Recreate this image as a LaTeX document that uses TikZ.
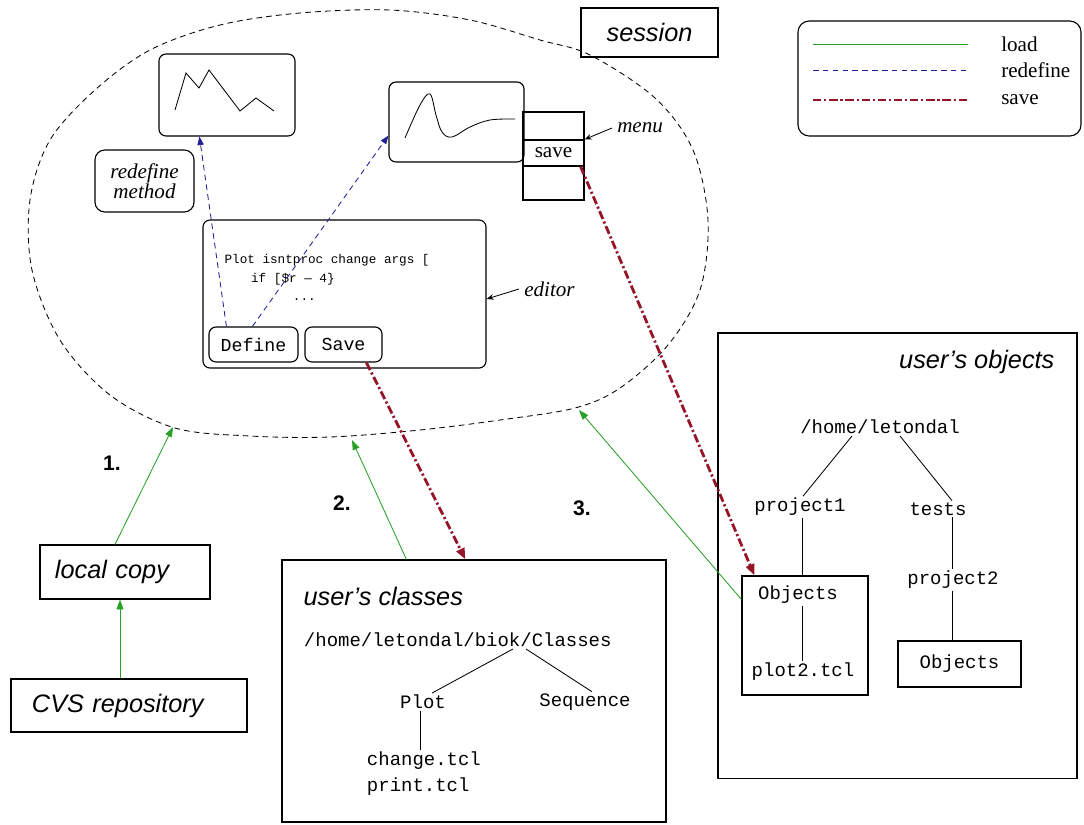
\documentclass[tikz,border=0pt]{standalone}
\usepackage{fontspec}
\setmainfont{Liberation Serif}
\setsansfont{Liberation Sans}
\setmonofont{Liberation Mono}
\usetikzlibrary{arrows.meta,calc}

\definecolor{loadgreen}{RGB}{40,160,40}
\definecolor{redefblue}{RGB}{30,30,150}
\definecolor{savered}{RGB}{150,20,40}

\tikzset{
  loadline/.style={draw=loadgreen, line width=0.6pt},
  redefline/.style={draw=redefblue, line width=0.6pt, dash pattern=on 4pt off 3pt},
  saveline/.style={draw=savered, line width=2pt, dash pattern=on 6pt off 2pt on 1.5pt off 2pt},
  load/.style={loadline, -{Triangle[length=7pt,width=5pt]}},
  redef/.style={redefline, -{Triangle[length=6pt,width=4.5pt]}},
  savearr/.style={saveline, -{Triangle[length=8pt,width=6pt]}},
  pointer/.style={line width=0.6pt, -{Stealth[length=5pt,width=4pt]}},
  win/.style={draw, rounded corners=5pt},
  box/.style={draw},
  title/.style={font=\sffamily\itshape\fontsize{18}{21}\selectfont},
  numlbl/.style={font=\sffamily\bfseries\fontsize{15}{18}\selectfont},
  mono/.style={font=\ttfamily\fontsize{13.5}{16}\selectfont, inner sep=1pt},
  note/.style={font=\itshape\fontsize{15}{17}\selectfont},
  legtext/.style={font=\fontsize{15}{17}\selectfont, anchor=west},
}

\begin{document}
\begin{tikzpicture}[x=0.025cm, y=-0.025cm, line width=0.8pt]
  \useasboundingbox (0,0) rectangle (1084,824);

  % session cloud
  \draw[line width=0.6pt, dash pattern=on 4pt off 3pt] plot[smooth cycle, tension=0.55] coordinates {
    (175,428) (110,395) (60,340) (32,270) (30,200) (50,140) (95,90) (150,50)
    (220,25) (300,13) (390,10) (470,20) (540,40) (590,55) (655,98) (693,150)
    (708,220) (700,290) (668,345) (620,388) (575,408) (500,420) (420,430)
    (330,437) (250,436)};
  \node[box, title, minimum width=3.425cm, minimum height=1.225cm] (session) at (649.5,32.5) {session};

  % Legend
  \node[win, rounded corners=8pt, minimum width=7.075cm, minimum height=2.875cm] (legend) at (939.5,78.5) {};
  \node[legtext] (lload) at (996,44) {load};
  \node[legtext] (lredef) at (996,70) {redefine};
  \node[legtext] (lsave) at (996,100) {save};
  \draw[loadline] ($(lload.west)+(-183,0)$) -- ($(lload.west)+(-28,0)$);
  \draw[redefline] ($(lredef.west)+(-183,0)$) -- ($(lredef.west)+(-28,0)$);
  \draw[saveline] ($(lsave.west)+(-183,0)$) -- ($(lsave.west)+(-28,0)$);

  % Plot windows
  \node[win, minimum width=3.4cm, minimum height=2.05cm] (plota) at (227,95) {};
  \draw[line width=0.6pt] plot coordinates {(175,110) (186,73) (199,88) (209,70) (240,111) (256,98) (274,111)};
  \node[win, minimum width=3.375cm, minimum height=2cm] (plotb) at (456.5,122) {};
  \draw[line width=0.6pt] plot[smooth, tension=0.6] coordinates {(405,138) (420,105) (430,94) (436,115) (442,132) (452,137) (470,127) (490,120) (515,119)};

  % Menu
  \node[box, minimum width=1.525cm, minimum height=0.7cm] (mtop) at (553.5,126) {};
  \node[box, minimum width=1.525cm, minimum height=0.65cm, font=\fontsize{15}{17}\selectfont] (msave) at (553.5,153) {save};
  \node[box, minimum width=1.525cm, minimum height=0.85cm] (mbot) at (553.5,183) {};
  \node[note, anchor=west] (menulbl) at (612,128) {menu};
  \draw[pointer] (menulbl.west) -- (msave.north east);

  \node[win, note, align=center, rounded corners=7pt, minimum width=2.475cm, minimum height=1.55cm] (redefm) at (144.5,181) {redefine\\[-3pt]method};

  % Editor
  \node[win, minimum width=7.075cm, minimum height=3.7cm] (editor) at (344.5,294) {};
  \node[anchor=north west, align=left, inner sep=0pt, font=\ttfamily\fontsize{9}{13}\selectfont] (code) at (224,254)
    {Plot isntproc change args [\\\hspace*{2.1em}if [\$r — 4\}\\\hspace*{5.4em}...};
  \node[win, mono, font=\ttfamily\fontsize{13}{15}\selectfont, minimum width=2.225cm, minimum height=0.875cm] (define) at (253.5,344.5) {Define};
  \node[win, mono, font=\ttfamily\fontsize{13}{15}\selectfont, minimum width=1.925cm, minimum height=0.875cm] (savebtn) at (343.5,344.5) {Save};
  \node[note, anchor=west] (edlbl) at (519,289) {editor};
  \draw[pointer] (edlbl.west) -- ($(editor.east)+(0,5)$);

  % redefine arrows
  \draw[redef] ($(define.north west)+(18,0)$) -- ($(plota.south west)+(41,0)$);
  \draw[redef] ($(define.north west)+(44,0)$) -- ($(plotb.south west)+(0,-27)$);

  % Local copy and CVS
  \node[box, title, inner xsep=0.375cm, text width=3.5cm, align=left, minimum height=1.35cm] (local) at (125,572) {local copy};
  \node[box, title, inner xsep=0.525cm, text width=4.85cm, align=left, minimum height=1.325cm] (cvs) at (129,705.5) {CVS repository};

  % User's classes
  \node[box, minimum width=9.6cm, minimum height=6.55cm] (classes) at (474,691) {};
  \node[title, anchor=west, inner sep=0pt] (ctitle) at (303,596) {user's classes};
  \node[mono, anchor=west] (croot) at (302,640) {/home/letondal/biok/Classes};
  \node[mono] (cplot) at (423,702) {Plot};
  \node[mono] (cseq) at (585,702) {Sequence};
  \node[mono, anchor=west] (cchange) at (365,761) {change.tcl};
  \node[mono, anchor=west] (cprint) at (365,787) {print.tcl};
  \draw[line width=0.6pt] ($(croot.south west)+(211,0)$) -- ($(cplot.north)+(9,0)$);
  \draw[line width=0.6pt] ($(croot.south west)+(224,0)$) -- ($(cseq.north)+(7,0)$);
  \draw[line width=0.6pt] ($(cplot.south)+(-3,0)$) -- ($(cplot.south |- cchange.north)+(-3,0)$);

  % User's objects
  \node[box, minimum width=8.975cm, minimum height=11.125cm] (objects) at (897.5,555.5) {};
  \node[title, anchor=east, inner sep=0pt] (otitle) at (1055,362) {user's objects};
  \node[mono] (oroot) at (880,427) {/home/letondal};
  \node[mono] (oproj1) at (800,507) {project1};
  \node[mono] (otests) at (938,509) {tests};
  \node[mono] (oproj2) at (953,580) {project2};
  \node[box, minimum width=3.15cm, minimum height=2.975cm] (obja) at (805,635.5) {};
  \node[mono] (obtext) at (798,595) {Objects};
  \node[mono] (oplot2) at (803,672) {plot2.tcl};
  \node[box, mono, inner sep=0pt, minimum width=3.075cm, minimum height=1.15cm] (objb) at (959.5,664) {Objects};
  \draw[line width=0.6pt] ($(oroot.south)+(-28,0)$) -- ($(oproj1.north)+(3,0)$);
  \draw[line width=0.6pt] ($(oroot.south)+(20,0)$) -- ($(otests.north)+(14,0)$);
  \draw[line width=0.6pt] ($(oproj1.south)+(2,0)$) -- ($(oproj1.south |- obja.north)+(2,0)$);
  \draw[line width=0.6pt] ($(otests.south)+(14,0)$) -- ($(otests.south |- oproj2.north)+(14,0)$);
  \draw[line width=0.6pt] ($(oproj2.south)+(-1,0)$) -- ($(oproj2.south |- objb.north)+(-1,0)$);
  \draw[line width=0.6pt] ($(obtext.south)+(4,0)$) -- ($(obtext.south |- oplot2.north)+(4,0)$);

  % load arrows
  \coordinate (ca) at (173,427);
  \coordinate (cb) at (352,440);
  \coordinate (cc) at (579,410);
  \draw[load] (cvs.north -| 120,0) -- (local.south -| 120,0);
  \draw[load] ($(local.north)+(-10,0)$) -- (ca);
  \draw[load] ($(classes.north west)+(125,0)$) -- (cb);
  \draw[load] ($(obja.north west)+(0,24)$) -- (cc);
  \node[numlbl] (n1) at (112,463) {1.};
  \node[numlbl] (n2) at (342,503) {2.};
  \node[numlbl] (n3) at (582,508) {3.};

  % save arrows
  \draw[savearr] ($(savebtn.south west)+(62,0)$) -- ($(classes.north west)+(184,0)$);
  \draw[savearr] ($(msave.south east)+(-4,0)$) -- ($(obja.north west)+(13,0)$);
\end{tikzpicture}
\end{document}
